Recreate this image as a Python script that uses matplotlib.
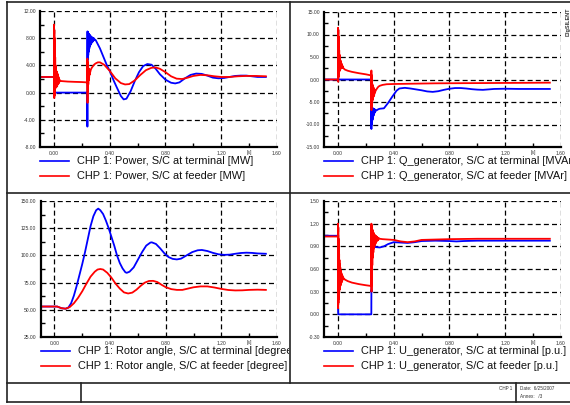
import matplotlib
matplotlib.use("Agg")
import matplotlib.pyplot as plt
from matplotlib.lines import Line2D
from matplotlib.transforms import Bbox, TransformedBbox

plt.rcParams['font.family'] = ['Liberation Sans', 'DejaVu Sans']

# ---------------- data ----------------
# Power [MW], S/C at terminal
p_term_t = [-0.10, 0.000, 0.001, 0.002, 0.003, 0.005, 0.2395,
            0.2400, 0.2405, 0.2420, 0.2440, 0.2460, 0.2480, 0.2500, 0.2520, 0.2540,
            0.2560, 0.2580, 0.2600, 0.2620, 0.2640, 0.2660, 0.2680, 0.2700, 0.2720,
            0.2740, 0.2760, 0.2780, 0.2800, 0.2830, 0.2860, 0.2900, 0.2950, 0.3000,
            0.33, 0.35, 0.38, 0.40, 0.43, 0.45, 0.48, 0.50, 0.52, 0.55, 0.58, 0.61,
            0.64, 0.67, 0.70, 0.73, 0.76, 0.80, 0.84, 0.87, 0.90, 0.94, 0.98, 1.02,
            1.06, 1.10, 1.14, 1.18, 1.22, 1.26, 1.30, 1.34, 1.38, 1.42, 1.46, 1.52]
p_term_v = [2.3, 2.3, 0.3, -0.2, 0.1, 0.0, 0.0,
            -5.0, 9.0, 4.8, 8.9, 5.5, 8.7, 6.0, 8.6, 6.5,
            8.5, 6.8, 8.4, 7.0, 8.3, 7.2, 8.2, 7.3, 8.1,
            7.4, 8.1, 7.5, 8.0, 7.6, 8.0, 7.8, 7.8, 7.7,
            6.5, 5.5, 4.0, 3.2, 1.7, 0.8, -0.5, -1.0, -0.9, 0.2, 1.7, 3.0,
            3.9, 4.2, 4.1, 3.5, 2.7, 1.9, 1.45, 1.35, 1.5, 2.1, 2.6, 2.8,
            2.75, 2.5, 2.2, 2.1, 2.15, 2.3, 2.45, 2.5, 2.5, 2.4, 2.3, 2.3]

# Power [MW], S/C at feeder
p_feed_t = [-0.10, 0.0000, 0.0010, 0.0020, 0.0030, 0.0040, 0.0050, 0.0060, 0.0070,
            0.0080, 0.0090, 0.0100, 0.0115, 0.0130, 0.0145, 0.0160, 0.0175, 0.0190,
            0.0210, 0.0230, 0.0250, 0.0270, 0.0290, 0.0310, 0.0330, 0.0350, 0.0370,
            0.0400, 0.0450, 0.0500, 0.10, 0.15, 0.20, 0.2390,
            0.2400, 0.2410, 0.2420, 0.2435, 0.2450, 0.2465, 0.2480, 0.2495, 0.2510,
            0.2525, 0.2540, 0.2560, 0.2580, 0.2600, 0.265, 0.27, 0.28, 0.29, 0.30,
            0.315, 0.33, 0.36, 0.40, 0.44, 0.48, 0.51, 0.54, 0.58, 0.62, 0.66, 0.70,
            0.73, 0.76, 0.80, 0.84, 0.88, 0.92, 0.96, 1.00, 1.05, 1.10, 1.15, 1.20,
            1.26, 1.32, 1.38, 1.45, 1.52]
p_feed_v = [2.3, 2.3, 10.0, -0.8, 9.2, -0.5, 8.0, 0.0, 6.5,
            0.3, 5.2, 0.6, 4.0, 0.8, 3.2, 1.0, 2.8, 1.1,
            3.1, 0.9, 2.8, 1.2, 2.6, 1.3, 2.3, 1.4, 2.0,
            1.6, 1.8, 1.7, 1.62, 1.58, 1.55, 1.5,
            5.0, -1.5, 4.5, 0.3, 4.0, 1.2, 3.6, 1.8, 3.4,
            2.2, 3.3, 2.6, 3.3, 3.0, 3.4, 3.6, 3.9, 4.15, 4.3,
            4.45, 4.45, 4.1, 3.2, 2.1, 1.4, 1.2, 1.25, 1.8, 2.6, 3.3, 3.65,
            3.7, 3.5, 3.0, 2.4, 2.05, 2.0, 2.2, 2.45, 2.6, 2.55, 2.4, 2.3,
            2.3, 2.4, 2.45, 2.45, 2.4]

# Q_generator [Mvar], S/C at terminal
q_term_t = [-0.10, 0.2395, 0.2400, 0.2410, 0.2420, 0.2435, 0.2450, 0.2465, 0.2480,
            0.2500, 0.2520, 0.2540, 0.2560, 0.2580, 0.2600, 0.2620, 0.2650, 0.2680,
            0.27, 0.28, 0.29, 0.30, 0.33, 0.36, 0.39, 0.42, 0.44, 0.48, 0.52, 0.56,
            0.60, 0.64, 0.68, 0.72, 0.76, 0.80, 0.84, 0.88, 0.92, 0.96, 1.00, 1.04,
            1.08, 1.12, 1.20, 1.30, 1.40, 1.52]
q_term_v = [0.0, 0.0, -11.0, -6.0, -10.0, -6.2, -9.5, -6.3, -9.0,
            -6.4, -8.5, -6.5, -8.0, -6.6, -7.6, -6.6, -7.3, -6.7,
            -7.0, -6.8, -6.6, -6.5, -6.4, -5.2, -3.8, -2.5, -2.0, -1.85, -2.0, -2.2,
            -2.4, -2.65, -2.75, -2.6, -2.3, -2.05, -1.9, -1.9, -2.0, -2.15, -2.25, -2.3,
            -2.2, -2.1, -2.05, -2.1, -2.1, -2.1]

# Q_generator [Mvar], S/C at feeder
q_feed_t = [-0.10, 0.000, 0.001, 0.002, 0.003, 0.004, 0.005, 0.006, 0.007, 0.008,
            0.009, 0.010, 0.0115, 0.013, 0.0145, 0.016, 0.0175, 0.019, 0.021, 0.023,
            0.025, 0.027, 0.029, 0.031, 0.034, 0.037, 0.040, 0.050, 0.070, 0.10,
            0.15, 0.20, 0.2395,
            0.2400, 0.2405, 0.2415, 0.2425, 0.2440, 0.2455, 0.2470, 0.2485, 0.2500,
            0.2520, 0.2540, 0.2560, 0.2580, 0.2600, 0.2620, 0.265, 0.27, 0.28, 0.29,
            0.30, 0.32, 0.35, 0.40, 0.50, 0.70, 1.00, 1.30, 1.52]
q_feed_v = [0.0, 0.0, 11.5, -0.5, 11.0, 0.5, 9.5, 1.0, 8.0, 1.5,
            6.5, 1.8, 5.5, 2.0, 4.8, 2.2, 4.3, 2.4, 4.0, 2.5,
            3.6, 2.6, 3.3, 2.6, 3.0, 2.5, 2.5, 2.2, 1.95, 1.7,
            1.4, 1.15, 0.9,
            2.0, -6.8, 1.0, -6.0, -0.5, -5.2, -1.0, -4.6, -1.4,
            -4.2, -1.7, -3.8, -2.0, -3.5, -2.2, -3.0, -2.5, -2.0, -1.6,
            -1.4, -1.2, -1.05, -1.0, -0.95, -0.85, -0.8, -0.75, -0.7]

# Rotor angle [degree]
ang_term_t = [-0.10, 0.02, 0.05, 0.08, 0.10, 0.12, 0.14, 0.16, 0.18, 0.20, 0.22,
              0.24, 0.26, 0.28, 0.30, 0.315, 0.33, 0.35, 0.37, 0.39, 0.41, 0.43,
              0.45, 0.47, 0.49, 0.51, 0.52, 0.54, 0.57, 0.60, 0.63, 0.66, 0.69,
              0.70, 0.73, 0.76, 0.79, 0.82, 0.85, 0.88, 0.91, 0.95, 0.99, 1.03,
              1.06, 1.10, 1.14, 1.18, 1.22, 1.26, 1.30, 1.34, 1.38, 1.42, 1.46, 1.52]
ang_term_v = [53.0, 53.0, 51.5, 51.0, 52.0, 56.0, 63.0, 72.0, 82.0, 92.0, 103.0,
              115.0, 127.0, 136.0, 141.5, 143.0, 141.5, 138.0, 132.0, 125.0, 117.0, 109.0,
              100.0, 93.0, 88.0, 84.5, 84.0, 85.0, 89.0, 96.0, 103.0, 109.0, 111.8,
              112.0, 110.5, 106.5, 102.0, 98.5, 96.8, 96.3, 97.0, 100.0, 103.0, 104.7,
              105.0, 104.0, 102.3, 101.0, 100.5, 100.7, 101.5, 102.2, 102.5, 102.3, 101.8, 101.5]
ang_feed_t = [-0.10, 0.02, 0.05, 0.08, 0.11, 0.14, 0.17, 0.20, 0.23, 0.26, 0.29,
              0.31, 0.33, 0.35, 0.38, 0.41, 0.44, 0.47, 0.50, 0.53, 0.56, 0.59,
              0.62, 0.65, 0.68, 0.71, 0.74, 0.77, 0.80, 0.84, 0.88, 0.92, 0.96,
              1.00, 1.05, 1.10, 1.15, 1.20, 1.25, 1.30, 1.35, 1.40, 1.46, 1.52]
ang_feed_v = [53.0, 53.0, 51.5, 51.0, 52.5, 56.0, 61.0, 67.0, 74.0, 80.5, 85.0,
              87.0, 87.5, 87.0, 84.0, 79.5, 74.0, 69.5, 66.0, 65.0, 65.8, 68.5,
              72.0, 75.0, 76.5, 76.6, 75.5, 73.0, 70.8, 69.0, 68.3, 68.3, 69.5,
              70.7, 71.5, 71.5, 70.5, 69.2, 68.2, 67.8, 67.9, 68.3, 68.5, 68.3]

# U_generator [p.u.]
u_term_t = [-0.10, 0.000, 0.0005, 0.002, 0.2395, 0.2400, 0.2405, 0.2415, 0.2430,
            0.2450, 0.2480, 0.2500, 0.2550, 0.2600, 0.27, 0.30, 0.33, 0.36, 0.40,
            0.45, 0.50, 0.55, 0.60, 0.70, 0.80, 0.85, 0.90, 1.00, 1.52]
u_term_v = [1.04, 1.04, 0.10, 0.0, 0.0, 0.32, 0.30, 1.0, 0.85,
            0.98, 0.88, 0.95, 0.90, 0.92, 0.89, 0.885, 0.90, 0.93, 0.955,
            0.95, 0.945, 0.955, 0.97, 0.975, 0.97, 0.965, 0.97, 0.975, 0.975]
u_feed_t = [-0.10, 0.0000, 0.0005, 0.0015, 0.0025, 0.0035, 0.0045, 0.0055, 0.0065,
            0.0075, 0.0085, 0.0095, 0.0110, 0.0125, 0.0140, 0.0155, 0.0170, 0.0185,
            0.0200, 0.0220, 0.0240, 0.0260, 0.0280, 0.0300, 0.0330, 0.0360, 0.040,
            0.050, 0.070, 0.10, 0.15, 0.20, 0.2395,
            0.2400, 0.2410, 0.2420, 0.2435, 0.2450, 0.2465, 0.2480, 0.2500, 0.2520,
            0.2540, 0.2560, 0.2580, 0.2600, 0.2620, 0.2650, 0.2680, 0.2710, 0.2740,
            0.2770, 0.2800, 0.2840, 0.2880, 0.2920, 0.30, 0.32, 0.36, 0.40, 0.45,
            0.50, 0.55, 0.60, 0.70, 0.80, 1.00, 1.52]
u_feed_v = [1.03, 1.03, 1.20, 0.08, 1.15, 0.15, 1.00, 0.20, 0.90,
            0.25, 0.80, 0.30, 0.72, 0.33, 0.66, 0.36, 0.62, 0.38,
            0.58, 0.40, 0.55, 0.42, 0.53, 0.44, 0.51, 0.46, 0.48,
            0.46, 0.44, 0.42, 0.40, 0.385, 0.375,
            1.20, 0.30, 1.18, 0.50, 1.15, 0.65, 1.12, 0.75, 1.10,
            0.82, 1.08, 0.87, 1.06, 0.90, 1.05, 0.93, 1.04, 0.95,
            1.03, 0.97, 1.02, 0.98, 1.01, 1.0, 0.995, 0.99, 0.985, 0.965,
            0.955, 0.965, 0.985, 0.99, 0.995, 1.0, 1.0]

x_ticks = [0.0, 0.4, 0.8, 1.2, 1.6]

panels = [
    # (left, top, right, bottom) px, ylim, ystep, series, legend labels, legend clip x
    ((40, 11, 277, 147), (-8, 12), 4.0,
     (p_term_t, p_term_v, p_feed_t, p_feed_v),
     ["CHP 1: Power, S/C at terminal [MW]", "CHP 1: Power, S/C at feeder [MW]"], 289),
    ((324, 12, 561, 147), (-15, 15), 5.0,
     (q_term_t, q_term_v, q_feed_t, q_feed_v),
     ["CHP 1: Q_generator, S/C at terminal [MVAr]", "CHP 1: Q_generator, S/C at feeder [MVAr]"], 570),
    ((40.5, 201, 277, 337), (25, 150), 25.0,
     (ang_term_t, ang_term_v, ang_feed_t, ang_feed_v),
     ["CHP 1: Rotor angle, S/C at terminal [degree]", "CHP 1: Rotor angle, S/C at feeder [degree]"], 289),
    ((324, 201, 561, 337), (-0.3, 1.5), 0.3,
     (u_term_t, u_term_v, u_feed_t, u_feed_v),
     ["CHP 1: U_generator, S/C at terminal [p.u.]", "CHP 1: U_generator, S/C at feeder [p.u.]"], 570),
]

W, H = 570, 405
fig = plt.figure(figsize=(W / 100, H / 100), dpi=100)


def fx(x):
    return x / W


def fy(y):
    return 1 - y / H


def frame_line(x0, y0, x1, y1):
    fig.add_artist(Line2D([fx(x0), fx(x1)], [fy(y0), fy(y1)], transform=fig.transFigure,
                          color='#222222', lw=1.2))


for (l, t, r, b), ylim, ystep, (t1, v1, t2, v2), labels, clip_x in panels:
    ax = fig.add_axes([fx(l), fy(b), fx(r) - fx(l), fy(t) - fy(b)])
    ax.plot(t1, v1, color='#0000ff', lw=1.3)
    ax.plot(t2, v2, color='#ff0000', lw=1.3)
    ax.set_xlim(-0.1, 1.6)
    ax.set_ylim(*ylim)

    yt = []
    y = ylim[0]
    while y <= ylim[1] + 1e-9:
        yt.append(round(y, 4))
        y += ystep
    ax.set_xticks(x_ticks)
    ax.set_yticks(yt)
    ax.set_xticks([v + 0.2 for v in x_ticks[:-1]], minor=True)
    ax.set_yticks([v + ystep / 2 for v in yt[:-1]], minor=True)
    ax.set_xticklabels(['%.2f' % v for v in x_ticks])
    ax.set_yticklabels(['%.2f' % v for v in yt])
    ax.tick_params(which='major', length=0, labelsize=3.6, pad=3, colors='#333333')
    ax.tick_params(which='minor', direction='in', length=3, width=1, color='black')
    ax.grid(True, which='major', color='black', lw=0.9, linestyle=(0, (4, 2.5)))
    for side in ('top', 'right'):
        ax.spines[side].set_visible(False)
    for side in ('left', 'bottom'):
        ax.spines[side].set_linewidth(1.6)
    ax.text(1.4, -0.022, '[s]', transform=ax.get_xaxis_transform(), fontsize=3.6,
            ha='center', va='top', color='#333333')

    # legend drawn below the axes, cut at the panel border like the original page
    clip = TransformedBbox(Bbox([[0, 0], [fx(clip_x), 1]]), fig.transFigure)
    for i, (lab, col) in enumerate(zip(labels, ('#0000ff', '#ff0000'))):
        ly = b + 14 + i * 14.7
        fig.add_artist(Line2D([fx(l), fx(l + 29)], [fy(ly), fy(ly)], transform=fig.transFigure,
                              color=col, lw=1.2))
        txt = fig.text(fx(l + 37), fy(ly), lab, fontsize=7.9, va='center', ha='left', color='#111111')
        txt.set_clip_box(clip)
        txt.set_clip_on(True)

# page frame
frame_line(7, 2, 575, 2)
frame_line(7, 2, 7, 401.5)
frame_line(7, 401.5, 575, 401.5)
frame_line(7, 192.7, 575, 192.7)
frame_line(290, 2, 290, 383)
frame_line(7, 383, 575, 383)
frame_line(81, 383, 81, 401.5)
frame_line(516, 383, 516, 401.5)

fig.text(fx(512), fy(388), 'CHP 1', fontsize=3.3, ha='right', va='center', color='#333333')
fig.text(fx(520), fy(388), 'Date:  6/25/2007', fontsize=3.3, ha='left', va='center', color='#333333')
fig.text(fx(520), fy(396), 'Annex:   /3', fontsize=3.3, ha='left', va='center', color='#333333')
fig.text(fx(566), fy(8), 'DIgSILENT', fontsize=4, rotation=90, ha='left', va='top',
         color='#333333', fontweight='bold')

fig.savefig('out.png', dpi=100)
